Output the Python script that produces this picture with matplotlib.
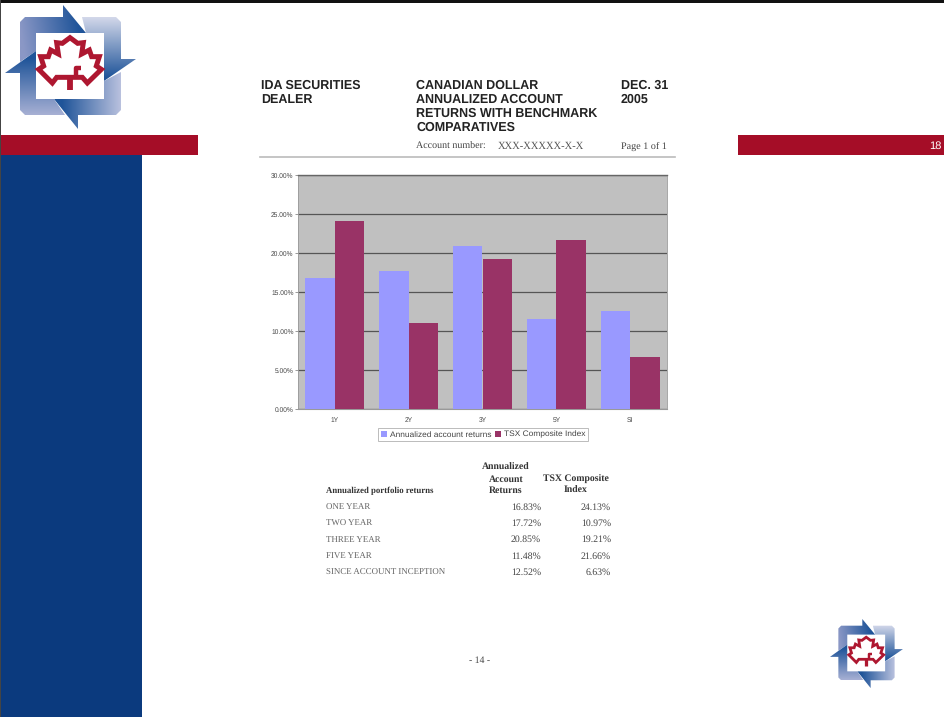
import numpy as np
import matplotlib
matplotlib.use('Agg')
import matplotlib.pyplot as plt
from matplotlib.colors import to_rgb
from matplotlib.patches import Polygon, Rectangle

plt.rcParams['text.hinting'] = 'no_hinting'

# Returns by period
periods = ['1Y', '2Y', '3Y', '5Y', 'SI']
row_names = ['ONE YEAR', 'TWO YEAR', 'THREE YEAR', 'FIVE YEAR', 'SINCE ACCOUNT INCEPTION']
account_returns = [16.83, 17.72, 20.85, 11.48, 12.52]
tsx_returns = [24.13, 10.97, 19.21, 21.66, 6.63]
y_ticks = [0, 5, 10, 15, 20, 25, 30]

W, H = 945, 717
RED = '#a50d27'
NAVY = '#0b3a7e'
SANS = 'Liberation Sans'
SERIF = 'Liberation Serif'

fig = plt.figure(figsize=(W / 100, H / 100), dpi=100, facecolor='white')

# Full page axes in pixel units for the slide furniture
page = fig.add_axes([0, 0, 1, 1])
page.set_xlim(0, W)
page.set_ylim(H, 0)
page.axis('off')


def box(x0, y0, x1, y1, color):
    page.add_patch(Rectangle((x0, y0), x1 - x0, y1 - y0, color=color, lw=0))


def grad_poly(pts, p0, p1, c0, c1):
    # Linear gradient from p0 to p1 clipped to a polygon
    pts = np.array(pts, dtype=float)
    x0, y0 = pts.min(axis=0)
    x1, y1 = pts.max(axis=0)
    xx, yy = np.meshgrid(np.linspace(x0, x1, 120), np.linspace(y0, y1, 120))
    d = np.array(p1, dtype=float) - np.array(p0, dtype=float)
    t = ((xx - p0[0]) * d[0] + (yy - p0[1]) * d[1]) / (d @ d)
    t = np.clip(t, 0, 1)[..., None]
    img = np.array(to_rgb(c0)) * (1 - t) + np.array(to_rgb(c1)) * t
    im = page.imshow(img, extent=(x0, x1, y1, y0), origin='upper', aspect='auto', zorder=2)
    im.set_clip_path(Polygon(pts, transform=page.transData))


def logo(ox, oy, s):
    def tr(points):
        return [(ox + (x - 5) * s, oy + (y - 5) * s) for x, y in points]

    dark = '#1f5499'
    grad_poly(tr([(63, 5), (86, 33), (36, 33), (36, 51), (20, 62), (20, 22), (25, 17), (63, 17)]),
              tr([(20, 30)])[0], tr([(78, 20)])[0], '#8b98c6', dark)
    grad_poly(tr([(82, 17), (116, 17), (121, 22), (121, 59), (136, 59), (104, 81), (104, 33), (86, 33)]),
              tr([(110, 17)])[0], tr([(110, 78)])[0], '#d3d8ea', dark)
    grad_poly(tr([(78, 129), (54, 99), (104, 99), (104, 81), (121, 72), (121, 110), (116, 115), (78, 115)]),
              tr([(62, 105)])[0], tr([(121, 105)])[0], dark, '#b9c1de')
    grad_poly(tr([(5, 73), (36, 51), (36, 99), (54, 99), (65, 115), (25, 115), (20, 110), (20, 73)]),
              tr([(25, 58)])[0], tr([(25, 115)])[0], dark, '#a7b0d4')

    # Maple leaf outline, stem and inner fold
    leaf = [(210, 113), (233, 130), (250, 128), (245, 162), (268, 150), (275, 170), (298, 170),
            (289, 198), (304, 208), (262, 249), (247, 232), (218, 232), (200, 232), (170, 232),
            (157, 249), (116, 208), (131, 198), (122, 170), (145, 170), (152, 150), (175, 162),
            (170, 128), (187, 130)]
    leaf = tr([(x / 3, y / 3) for x, y in leaf])
    page.add_patch(Polygon(leaf, closed=True, fc='white', ec='#ae1730', lw=3.6 * s, zorder=3,
                           joinstyle='miter'))
    sx, sy = zip(*tr([(69.5, 90), (69.5, 77)]))
    page.plot(sx, sy, color='#ae1730', lw=4.2 * s, zorder=4, solid_capstyle='butt')
    hx, hy = zip(*tr([(75.5, 78), (75.5, 68), (81, 68)]))
    page.plot(hx, hy, color='#ae1730', lw=3.2 * s, zorder=4, solid_capstyle='butt')


# Slide frame and coloured bands
box(0, 0, W, 3, '#111111')
box(0, 0, 1, H, '#444444')
box(1, 154, 142, H, NAVY)
box(1, 135, 198, 155, RED)
box(738, 135, W, 155, RED)
page.text(935, 146, '18', color='white', fontsize=8, family=SANS, ha='center', va='center')

logo(5, 5, 1.0)
logo(830, 619, 0.557)
page.set_xlim(0, W)
page.set_ylim(H, 0)

# Statement heading
for txt, x, y in [('IDA SECURITIES', 261, 89), ('DEALER', 261, 103),
                  ('CANADIAN DOLLAR', 416, 89), ('ANNUALIZED ACCOUNT', 416, 103),
                  ('RETURNS WITH BENCHMARK', 416, 117), ('COMPARATIVES', 416, 131),
                  ('DEC. 31', 621, 89), ('2005', 621, 103)]:
    page.text(x, y, txt, fontsize=9.0, family=SANS, weight='bold', color='#222222', va='baseline')
page.text(416, 149, 'Account number:', fontsize=7.2, family=SERIF, color='#444444', va='baseline')
page.text(498, 149, 'XXX-XXXXX-X-X', fontsize=7.6, family=SERIF, color='#555555', va='baseline')
page.text(621, 149, 'Page 1 of 1', fontsize=7.3, family=SERIF, color='#444444', va='baseline')
page.plot([260, 675], [157, 157], color='#bbbbbb', lw=1.2)

# Bar chart
left, right, top, bottom = 298, 667, 175, 409
ax = fig.add_axes([left / W, 1 - bottom / H, (right - left) / W, (bottom - top) / H])
ax.set_facecolor('#c0c0c0')
x = np.arange(len(periods))
ax.bar(x - 0.2, account_returns, width=0.4, color='#9999ff', zorder=3,
       label='Annualized account returns')
ax.bar(x + 0.2, tsx_returns, width=0.4, color='#993366', zorder=3,
       label='TSX Composite Index')
ax.set_xlim(-0.5, len(periods) - 0.5)
ax.set_ylim(0, 30)
ax.set_yticks(y_ticks)
ax.set_yticklabels([f'{v:.2f}%' for v in y_ticks])
ax.set_xticks(x)
ax.set_xticklabels(periods)
ax.grid(axis='y', color='#555555', lw=0.9, zorder=1)
ax.tick_params(axis='both', labelsize=4.8, labelcolor='#444444', color='#888888', length=2, width=0.6, pad=1.2)
ax.tick_params(axis='x', length=0, pad=6)
for side in ['left', 'right', 'top']:
    ax.spines[side].set_color('#999999')
    ax.spines[side].set_linewidth(0.6)
ax.spines['top'].set_color('#666666')
ax.spines['top'].set_linewidth(1.0)
ax.spines['bottom'].set_color('#999999')
for lab in ax.get_xticklabels() + ax.get_yticklabels():
    lab.set_family(SANS)

leg = fig.legend(loc='center', bbox_to_anchor=(483 / W, 1 - 434.5 / H), ncol=2,
                 prop={'family': SANS, 'size': 6.0}, frameon=True, fancybox=False, edgecolor='#aaaaaa',
                 handlelength=0.8, handleheight=0.8, handletextpad=0.3, columnspacing=0.4,
                 borderpad=0.35, labelcolor='#444444')
leg.get_frame().set_linewidth(0.7)

# Returns table below the chart
for txt, x_pos, y in [('Annualized', 506, 470), ('Account', 506, 482), ('Returns', 506, 493),
                      ('TSX Composite', 576, 482), ('Index', 576, 493)]:
    page.text(x_pos, y, txt, fontsize=7, family=SERIF, weight='bold', color='#333333',
              ha='center', va='baseline')
page.text(326, 493, 'Annualized portfolio returns', fontsize=6.3, family=SERIF, weight='bold',
          color='#333333', va='baseline')

row_y = [510, 526, 542, 559, 575]
for name, acc, tsx, y in zip(row_names, account_returns, tsx_returns, row_y):
    page.text(326, y, name, fontsize=6.4, family=SERIF, color='#666666', va='baseline')
    page.text(541, y, f'{acc:.2f}%', fontsize=7, family=SERIF, color='#444444', ha='right', va='baseline')
    page.text(611, y, f'{tsx:.2f}%', fontsize=7, family=SERIF, color='#444444', ha='right', va='baseline')

page.text(480, 663, '- 14 -', fontsize=7, family=SERIF, color='#444444', ha='center', va='baseline')

fig.savefig('out.png', dpi=100)
